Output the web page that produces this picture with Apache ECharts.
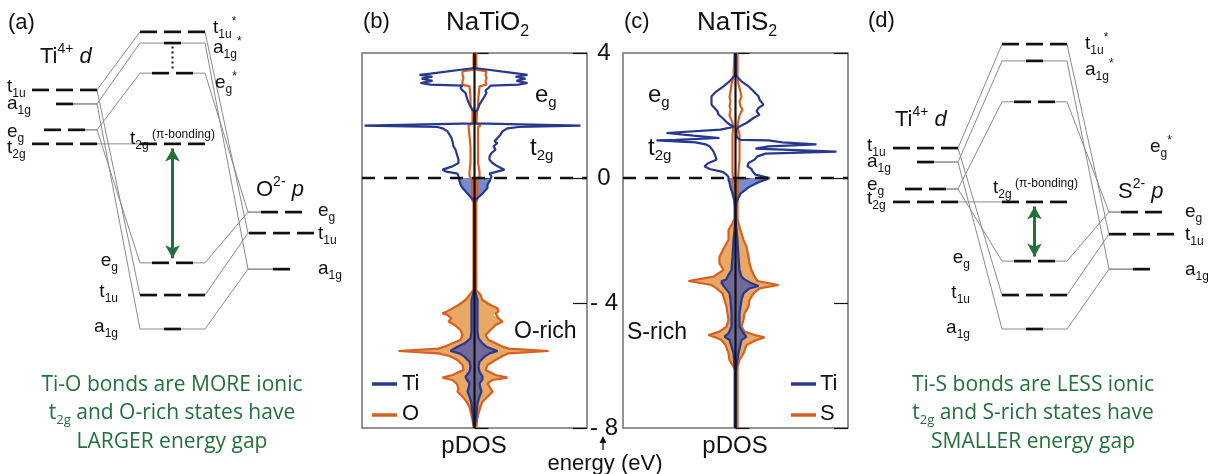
<!DOCTYPE html>
<html>
<head>
<meta charset="utf-8">
<script src="https://cdn.jsdelivr.net/npm/echarts@6/dist/echarts.min.js"></script>
<style>
html,body{margin:0;padding:0;background:#ffffff;}
#chart{width:1208px;height:474px;}
</style>
</head>
<body>
<div id="chart"></div>
<script>
// ================= DATA =================
const energyTicks = [4, 0, -4, -8]; // eV

// (b) NaTiO2 pDOS (arb. units). E in eV; R = right half, L = left half (mirrored plot)
const tiO_E = [4.0,3.52,3.467,3.34,3.30,3.24,3.18,3.11,3.04,2.987,2.955,2.88,2.805,2.72,2.613,2.507,2.347,2.187,2.1,1.75,1.72,1.675,1.632,1.59,1.493,1.387,1.28,1.173,1.12,1.013,0.907,0.8,0.693,0.587,0.48,0.373,0.267,0.203,0.139,0.053,0,-0.107,-0.213,-0.32,-0.427,-0.533,-0.64,-0.747,-3.6,-3.904,-4.277,-4.6,-4.9,-5.13,-5.29,-5.397,-5.461,-5.536,-5.611,-5.717,-5.877,-6.037,-6.197,-6.357,-6.443,-6.571,-6.731,-6.837,-6.997,-7.211,-7.531,-7.957,-8];
const tiO_R = [0,0,0,4.4,5.3,4.1,5.1,4.2,5.3,4.4,1.6,1.4,1.1,1.2,1.0,0.8,0.5,0.3,0.03,0.05,0.1,10.6,4.4,3.3,2.8,2.6,2.3,2.0,2.3,1.9,2.1,1.7,1.5,1.5,1.8,2.3,3.0,2.8,1.5,1.7,1.6,1.5,1.3,1.3,1.0,0.7,0.3,0,0.05,0.3,0.3,0.3,0.3,0.4,0.8,1.2,1.7,2.3,1.5,1.0,0.5,0.4,0.5,0.8,0.8,0.5,0.6,0.7,0.5,0.3,0.2,0.05,0];
const tiO_L = [0,0,0,4.4,5.5,4.2,5.3,4.2,5.4,4.4,1.2,1.4,1.2,0.9,0.8,0.7,0.5,0.2,0,0.05,0.1,11.0,3.7,3.2,2.7,2.5,2.3,2.2,2.2,2.1,1.9,1.8,1.7,1.6,1.6,2.2,3.2,2.8,1.7,1.6,1.6,1.5,1.4,1.2,0.9,0.6,0.3,0,0.05,0.3,0.3,0.3,0.3,0.4,1.0,1.7,1.9,2.4,1.5,1.0,0.5,0.4,0.5,0.9,0.8,0.5,0.6,0.7,0.5,0.3,0.2,0.05,0];
const oO_E = [4.0,3.47,3.41,3.30,3.2,3.09,2.99,2.93,2.6,2.3,2.13,1.75,1.68,1.63,1.0,0.5,0.2,0.05,-0.05,-0.7,-0.8,-3.584,-3.637,-3.744,-3.904,-4.064,-4.171,-4.277,-4.331,-4.384,-4.491,-4.597,-4.704,-4.864,-5.024,-5.184,-5.291,-5.397,-5.461,-5.536,-5.611,-5.696,-5.824,-5.984,-6.144,-6.304,-6.389,-6.464,-6.571,-6.731,-6.837,-6.997,-7.157,-7.317,-7.531,-7.744,-7.957,-8];
const oO_R = [0.18,0.18,1.2,1.1,1.2,1.1,1.2,0.5,0.4,0.35,0.25,0.2,0.6,0.35,0.35,0.35,0.5,0.5,0.3,0.27,0.18,0.18,0.2,0.6,0.8,1.6,2.3,2.4,2.1,1.9,2.4,2.8,2.1,1.6,1.1,1.4,2.1,2.8,3.4,7.4,3.4,2.8,2.1,1.3,1.1,2.1,3.3,1.8,1.3,1.6,1.8,1.3,0.8,0.6,0.4,0.25,0.18,0.18];
const oO_L = [0.1,0.1,1.2,1.2,1.1,1.2,1.2,0.5,0.4,0.4,0.2,0.2,0.6,0.4,0.4,0.4,0.5,0.5,0.25,0.23,0.1,0.1,0.2,0.5,0.9,1.6,2.2,2.8,3.2,2.7,2.3,2.6,2.0,1.4,1.2,1.4,2.2,3.0,3.6,7.6,3.6,2.5,1.7,1.2,1.1,2.2,3.2,2.2,1.8,1.6,1.7,1.2,0.8,0.5,0.35,0.2,0.1,0.1];

// (c) NaTiS2 pDOS
const tiS_E = [4.0,3.3,3.253,3.093,2.933,2.773,2.613,2.507,2.453,2.347,2.24,2.133,2.027,1.92,1.76,1.632,1.547,1.44,1.355,1.28,1.22,1.205,1.141,1.077,1.013,0.939,0.843,0.779,0.693,0.587,0.48,0.373,0.288,0.213,0.181,0.107,0.03,0,-0.06,-0.15,-0.3,-0.5,-0.75,-0.9,-1.4,-1.98,-2.517,-2.944,-3.157,-3.243,-3.307,-3.371,-3.456,-3.531,-3.691,-3.904,-4.331,-4.757,-4.971,-5.077,-5.184,-5.611,-6.037,-6.2,-8];
const tiS_R = [0,0,0,0.6,1.3,1.8,2.3,2.4,2.4,2.8,2.3,2.1,2.4,1.8,1.1,0.3,0.1,0.1,0.1,0.2,0.5,3.3,4.7,8.1,3.3,2.0,10.1,3.0,2.2,1.9,1.3,1.2,1.6,1.7,1.8,2.0,3.0,3.4,3.3,2.2,1.3,0.5,0.1,0,0.03,0.2,0.3,0.4,0.6,0.9,1.1,1.6,2.3,1.4,0.8,0.6,0.4,0.4,0.8,1.1,0.6,0.3,0.1,0,0];
const tiS_L = [0,0,0,0.6,1.2,1.9,2.4,2.4,2.2,2.4,2.1,1.8,1.7,1.3,0.8,0.2,1.5,6.9,4.2,1.6,6.0,7.9,4.0,3.0,2.6,2.4,2.2,2.1,2.0,1.9,2.7,3.1,2.6,1.5,1.2,0.9,0.7,0.7,0.7,0.6,0.5,0.3,0.1,0,0.03,0.2,0.3,0.4,0.8,0.9,1.4,1.6,1.2,1.0,0.6,0.5,0.4,0.4,0.7,1.1,0.6,0.2,0.1,0,0];
const sS_E = [4.0,3.25,3.0,2.75,2.6,2.45,2.3,2.2,2.0,1.85,1.65,1.4,1.0,0.6,0.2,-0.2,-1.0,-1.291,-1.451,-1.664,-1.984,-2.197,-2.517,-2.731,-2.944,-3.157,-3.296,-3.424,-3.531,-3.691,-3.904,-4.117,-4.331,-4.544,-4.757,-4.917,-5.024,-5.099,-5.184,-5.344,-5.611,-5.824,-6.037,-6.144,-8];
const sS_R = [0.2,0.2,0.3,0.5,0.6,0.4,0.5,0.7,0.4,0.3,0.2,0.4,0.4,0.4,0.3,0.25,0.2,0.2,0.3,0.5,0.8,1.1,1.3,1.4,1.6,1.9,2.2,4.3,2.4,1.8,1.4,1.3,0.9,0.8,0.6,0.9,1.9,2.9,2.1,1.1,0.8,0.4,0.2,0.2,0.2];
const sS_L = [0.1,0.2,0.4,0.5,0.6,0.5,0.6,0.5,0.6,0.4,0.2,0.3,0.3,0.3,0.3,0.2,0.1,0.1,0.3,0.7,0.7,1.1,1.6,1.6,1.2,2.2,4.7,2.4,1.9,1.3,1.1,0.9,0.8,0.7,0.9,1.6,2.7,2.0,1.4,1.0,0.7,0.6,0.2,0.1,0.1];

// (a) / (d) molecular-orbital diagrams, schematic energies (arb. units, 0-100)
const orbitalNames = ['t1u', 'a1g', 'eg'];
const degeneracy = [3, 1, 2];
const a_metal = [74.3, 70.3, 62.9], a_metalT2g = 58.9;   // Ti4+ d (NaTiO2)
const a_anti  = [90.9, 87.7, 79.1];                       // t1u*, a1g*, eg*
const a_bond  = [15.7, 6.0, 24.9];                        // t1u, a1g, eg
const a_lig   = [33.4, 23.1, 39.4];                       // O2- p
const d_metal = [57.7, 53.7, 46.0], d_metalT2g = 42.3;   // Ti4+ d (NaTiS2)
const d_anti  = [87.4, 82.6, 70.9];
const d_bond  = [15.7, 6.0, 25.4];
const d_lig   = [33.1, 23.1, 39.4];                       // S2- p

// ================= STYLE / LAYOUT =================
const SANS = 'Liberation Sans';
const GREEN_FONT = 'Open Sans';
const TI_LINE = '#27398f', O_LINE = '#d75f1f', O_FILL = '#eaa865', TI_FILL = 'rgba(40,66,180,0.62)';
const GREEN = '#22703a', GRAY = '#8a8a8a', BLACK = '#111111';
const DASH = 17, GAP = 7;
const hw = n => (n * DASH + (n - 1) * GAP) / 2;
const layA = {tiC: 64.5, tiAnchor: 97, moL: 140, moC: 172.5, moR: 205, ligAnchor: 248, ligC: 281.5};
const layD = {tiC: 85.5, tiAnchor: 118, moL: 162, moC: 194.5, moR: 227, ligAnchor: 269, ligC: 301.5};
const DOS_HALF = 11.25;

const chart = echarts.init(document.getElementById('chart'), null, {renderer: 'canvas', width: 1208, height: 474});

// ---------- helpers ----------
function lineS(xi, yi, data, color, width, z, extra) {
  return Object.assign({type: 'line', xAxisIndex: xi, yAxisIndex: yi, data: data, symbol: 'none', showSymbol: false,
    lineStyle: {color: color, width: width}, z: z, silent: true, animation: false, clip: false}, extra || {});
}
function below0(E, V) {
  const out = [];
  for (let i = 0; i < E.length; i++) {
    if (E[i] <= 0) {
      if (out.length === 0 && i > 0 && E[i - 1] > 0) {
        const t = (0 - E[i - 1]) / (E[i] - E[i - 1]);
        out.push([V[i - 1] + t * (V[i] - V[i - 1]), 0]);
      }
      out.push([V[i], E[i]]);
    }
  }
  return out;
}
function fillS(xi, yi, E, R, L, color, z) {
  const right = below0(E, R);
  const left = below0(E, L).map(p => [-p[0], p[1]]).reverse();
  const poly = right.concat(left);
  return {type: 'custom', xAxisIndex: xi, yAxisIndex: yi, z: z, silent: true, clip: false, data: [[0, 0]],
    renderItem: (params, api) => ({type: 'polygon', shape: {points: poly.map(p => api.coord(p))}, style: {fill: color}})};
}
function dosSeries(xi, yi, tiE, tiR, tiL, xE, xR, xL) {
  const s = [];
  s.push(fillS(xi, yi, xE, xR, xL, O_FILL, 2));
  s.push(fillS(xi, yi, tiE, tiR, tiL, TI_FILL, 3));
  s.push(lineS(xi, yi, xE.map((e, i) => [xR[i], e]), O_LINE, 2.2, 4));
  s.push(lineS(xi, yi, xE.map((e, i) => [-xL[i], e]), O_LINE, 2.2, 4));
  s.push(lineS(xi, yi, tiE.map((e, i) => [tiR[i], e]), TI_LINE, 2.2, 5));
  s.push(lineS(xi, yi, tiE.map((e, i) => [-tiL[i], e]), TI_LINE, 2.2, 5));
  s.push(lineS(xi, yi, [[0, energyTicks[3]], [0, energyTicks[0]]], BLACK, 2.2, 6));
  s.push(lineS(xi, yi, [[-DOS_HALF, 0], [DOS_HALF, 0]], BLACK, 2.4, 7, {lineStyle: {color: BLACK, width: 2.4, type: [13, 9]}}));
  return s;
}
function levelS(xi, yi, items, z) {
  return {type: 'custom', xAxisIndex: xi, yAxisIndex: yi, z: z || 5, silent: true, clip: false, data: items,
    renderItem: (params, api) => {
      const p = api.coord([api.value(0), api.value(1)]);
      const n = api.value(2);
      const total = n * DASH + (n - 1) * GAP;
      const children = [];
      for (let k = 0; k < n; k++) {
        const x0 = p[0] - total / 2 + k * (DASH + GAP);
        children.push({type: 'line', shape: {x1: x0, y1: p[1], x2: x0 + DASH, y2: p[1]}, style: {stroke: BLACK, lineWidth: 2.7}});
      }
      return {type: 'group', children: children};
    }};
}
function moSeries(xi, yi, lay, metal, metalT2g, anti, bond, lig, dotted) {
  const s = [];
  const items = [];
  for (let k = 0; k < 3; k++) {
    const n = degeneracy[k];
    items.push([lay.tiC, metal[k], n], [lay.moC, anti[k], n], [lay.moC, bond[k], n], [lay.ligC, lig[k], n]);
    [anti[k], bond[k]].forEach(lv => {
      s.push(lineS(xi, yi, [[lay.tiC + hw(n), metal[k]], [lay.tiAnchor, metal[k]], [lay.moL, lv], [lay.moC - hw(n), lv]], GRAY, 1, 3));
      s.push(lineS(xi, yi, [[lay.moC + hw(n), lv], [lay.moR, lv], [lay.ligAnchor, lig[k]], [lay.ligC - hw(n), lig[k]]], GRAY, 1, 3));
    });
  }
  items.push([lay.tiC, metalT2g, 3], [lay.moC, metalT2g, 3]);
  const t2gLine = lineS(xi, yi, [[lay.tiC + hw(3), metalT2g], [lay.moC - hw(3), metalT2g]], GRAY, 1, 3);
  t2gLine.markLine = {silent: true, animation: false, symbol: ['arrow', 'arrow'], symbolSize: [11, 13], label: {show: false},
    lineStyle: {color: GREEN, width: 3, type: 'solid'},
    data: [[{coord: [lay.moC, metalT2g - 1.3]}, {coord: [lay.moC, bond[2] + 1.3]}]]};
  s.push(t2gLine);
  if (dotted) {
    s.push(lineS(xi, yi, [[lay.moC, anti[1] - 1], [lay.moC, anti[2] + 1]], BLACK, 2, 4, {lineStyle: {color: BLACK, width: 2, type: [2, 3]}}));
  }
  s.push(levelS(xi, yi, items, 5));
  return s;
}

// ---------- axes ----------
const moX = (gi, max) => ({gridIndex: gi, type: 'value', min: 0, max: max, show: false});
const moY = gi => ({gridIndex: gi, type: 'value', min: 0, max: 100, show: false});
const dosX = gi => ({gridIndex: gi, type: 'value', min: -DOS_HALF, max: DOS_HALF, show: false});
const fmtE = v => (v < 0 ? '- ' + Math.abs(v) : String(v));
const dosY = (gi, pos, labels) => ({gridIndex: gi, type: 'value', position: pos, min: energyTicks[3], max: energyTicks[0], interval: 4,
  axisLine: {show: false}, splitLine: {show: false},
  axisTick: {show: true, inside: true, length: 14, lineStyle: {color: BLACK, width: 1.2}},
  axisLabel: {show: labels, margin: 17, align: 'center', fontSize: 24, color: BLACK, fontFamily: SANS, formatter: fmtE}});

const option = {
  animation: false,
  backgroundColor: '#ffffff',
  grid: [
    {left: 0, top: 0, width: 340, height: 350},
    {left: 362, top: 53, width: 225, height: 375, show: true, borderColor: '#707070', borderWidth: 1.5, backgroundColor: 'transparent'},
    {left: 623, top: 53, width: 225, height: 375, show: true, borderColor: '#707070', borderWidth: 1.5, backgroundColor: 'transparent'},
    {left: 840, top: 0, width: 368, height: 350}
  ],
  xAxis: [moX(0, 340), dosX(1), dosX(2), moX(3, 368)],
  yAxis: [moY(0), dosY(1, 'left', false), dosY(1, 'right', true), dosY(2, 'left', false), dosY(2, 'right', false), moY(3)],
  series: [].concat(
    moSeries(0, 0, layA, a_metal, a_metalT2g, a_anti, a_bond, a_lig, true),
    dosSeries(1, 1, tiO_E, tiO_R, tiO_L, oO_E, oO_R, oO_L),
    dosSeries(2, 3, tiS_E, tiS_R, tiS_L, sS_E, sS_R, sS_L),
    moSeries(3, 5, layD, d_metal, d_metalT2g, d_anti, d_bond, d_lig, false)
  )
};
chart.setOption(option);

// ---------- text ----------
function richSet(F, fam, color) {
  const f = Math.round(F * 0.62);
  const base = {fontFamily: fam, fill: color, verticalAlign: 'top'};
  return {
    m: Object.assign({}, base, {fontSize: F, padding: [0.2 * F, 0, 0, 0]}),
    i: Object.assign({}, base, {fontSize: F, fontStyle: 'italic', padding: [0.2 * F, 0, 0, 0]}),
    s: Object.assign({}, base, {fontSize: f, padding: [F - f / 2 + 1, 0, 0, 0]}),
    u: Object.assign({}, base, {fontSize: f, padding: [Math.max(0, 0.35 * F - f / 2), 0, 0, 0]}),
    p: Object.assign({}, base, {fontSize: 12, padding: [Math.max(0, 0.7 * F - 10), 0, 0, 0]})
  };
}
function T(text, x, cy, F, align, fam, color) {
  fam = fam || SANS; color = color || BLACK;
  return {type: 'text', x: x, y: cy - 0.7 * F, silent: true, z: 100,
    style: {text: text, rich: richSet(F, fam, color), align: align || 'left', verticalAlign: 'top', fontSize: F, fontFamily: fam, fill: color}};
}
const RN = {t1u: '{m|t}{s|1u}', a1g: '{m|a}{s|1g}', eg: '{m|e}{s|g}', t2g: '{m|t}{s|2g}'};
const star = k => RN[orbitalNames[k]] + '{u|*}';
const py = (ai, v) => chart.convertToPixel({xAxisIndex: ai, yAxisIndex: ai === 0 ? 0 : 5}, [0, v])[1];

const g = [];
// ----- panel (a)
g.push(T('{m|(a)}', 8, 23, 22));
g.push(T('{m|Ti}{u|4+}{m| }{i|d}', 40, 57, 22));
[-3, 0, 2].forEach((dy, k) => g.push(T(RN[orbitalNames[k]], 7, py(0, a_metal[k]) + dy, 19)));
g.push(T(RN.t2g, 7, py(0, a_metalT2g) + 4, 19));
[-3, -2, -2].forEach((dy, k) => g.push(T(RN[orbitalNames[k]], 118, py(0, a_bond[k]) + dy, 19, 'right')));
[-4, 5, 10].forEach((dy, k) => g.push(T(star(k), k === 2 ? 215 : 213, py(0, a_anti[k]) + dy, 19)));
[1, 0, -1].forEach((dy, k) => g.push(T(RN[orbitalNames[k]], 318, py(0, a_lig[k]) + dy, 19)));
g.push(T('{m|O}{u|2-}{m| }{i|p}', 256, 190, 22));
g.push(T('{m|t}{s|2g}{p| (π-bonding)}', 130, py(0, a_metalT2g) - 5, 19));
// ----- panel (d)
g.push(T('{m|(d)}', 868, 21, 22));
g.push(T('{m|Ti}{u|4+}{m| }{i|d}', 895, 120, 22));
[-2, 0, -4].forEach((dy, k) => g.push(T(RN[orbitalNames[k]], 867, py(3, d_metal[k]) + dy, 19)));
g.push(T(RN.t2g, 867, py(3, d_metalT2g) - 3, 19));
[-2, -1, -3].forEach((dy, k) => g.push(T(RN[orbitalNames[k]], 970, py(3, d_bond[k]) + dy, 19, 'right')));
g.push(T(star(0), 1085, py(3, d_anti[0]) + 0, 19));
g.push(T(star(1), 1085, py(3, d_anti[1]) + 9, 19));
g.push(T(star(2), 1150, py(3, d_anti[2]) + 45, 19));
[1, 1, 0].forEach((dy, k) => g.push(T(RN[orbitalNames[k]], 1185, py(3, d_lig[k]) + dy, 19)));
g.push(T('{m|S}{u|2-}{m| }{i|p}', 1118, 192, 22));
g.push(T('{m|t}{s|2g}{p| (π-bonding)}', 993, py(3, d_metalT2g) - 14, 19));
// ----- panel (b)
g.push(T('{m|(b)}', 363, 22, 22));
g.push(T('{m|NaTiO}{s|2}', 446, 23, 26));
g.push(T('{m|e}{s|g}', 535, 95, 24));
g.push(T('{m|t}{s|2g}', 530, 148, 24));
g.push(T('{m|O-rich}', 514, 332, 23));
g.push(T('{m|Ti}', 402, 384, 22));
g.push(T('{m|O}', 402, 414, 22));
g.push(T('{m|pDOS}', 474, 446, 24, 'center'));
// ----- panel (c)
g.push(T('{m|(c)}', 624, 22, 22));
g.push(T('{m|NaTiS}{s|2}', 697, 23, 26));
g.push(T('{m|e}{s|g}', 648, 95, 24));
g.push(T('{m|t}{s|2g}', 648, 148, 24));
g.push(T('{m|S-rich}', 627, 333, 23));
g.push(T('{m|Ti}', 820, 384, 22));
g.push(T('{m|S}', 820, 414, 22));
g.push(T('{m|pDOS}', 735, 446, 24, 'center'));
// energy label + arrow
g.push(T('{m|energy (eV)}', 605, 464, 22, 'center'));
g.push({type: 'line', silent: true, z: 100, shape: {x1: 603, y1: 450, x2: 603, y2: 441}, style: {stroke: BLACK, lineWidth: 1.3}});
g.push({type: 'polygon', silent: true, z: 100, shape: {points: [[599.5, 443], [606.5, 443], [603, 436]]}, style: {fill: BLACK}});
// legend swatches
[[372, 384, TI_LINE], [372, 415, O_LINE], [791, 384, TI_LINE], [791, 415, O_LINE]].forEach(a =>
  g.push({type: 'line', silent: true, z: 100, shape: {x1: a[0], y1: a[1], x2: a[0] + 25, y2: a[1]}, style: {stroke: a[2], lineWidth: 3.5}}));
// green summaries
g.push(T('{m|Ti-O bonds are MORE ionic}', 172, 385, 21, 'center', GREEN_FONT, GREEN));
g.push(T('{m|t}{s|2g}{m| and O-rich states have}', 172, 413, 21, 'center', GREEN_FONT, GREEN));
g.push(T('{m|LARGER energy gap}', 172, 442, 21, 'center', GREEN_FONT, GREEN));
g.push(T('{m|Ti-S bonds are LESS ionic}', 1033, 385, 21, 'center', GREEN_FONT, GREEN));
g.push(T('{m|t}{s|2g}{m| and S-rich states have}', 1033, 413, 21, 'center', GREEN_FONT, GREEN));
g.push(T('{m|SMALLER energy gap}', 1033, 442, 21, 'center', GREEN_FONT, GREEN));

chart.setOption({graphic: g});
</script>
</body>
</html>
